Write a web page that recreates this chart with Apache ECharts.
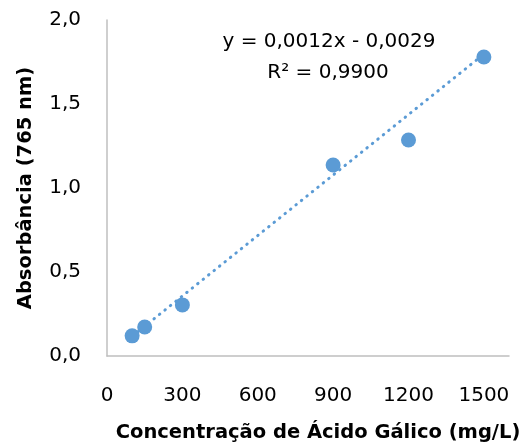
<!DOCTYPE html>
<html>
<head>
<meta charset="utf-8">
<script src="https://cdn.jsdelivr.net/npm/echarts@6/dist/echarts.min.js"></script>
<style>
  html, body { margin: 0; padding: 0; background: #fff; }
  #chart { width: 527px; height: 448px; }
</style>
</head>
<body>
<div id="chart"></div>
<script>
// concentration (mg/L) and absorbance
const concentration = [100, 150, 300, 900, 1200, 1500]
const absorbance = [0.12, 0.173, 0.304, 1.137, 1.286, 1.78]

// trendline ends (y = 0,0012x - 0,0029)
const trendX = [100, 1500]
const trendY = [0.117, 1.797]

const xTicks = [0, 300, 600, 900, 1200, 1500]
const yTicks = ['0,0', '0,5', '1,0', '1,5', '2,0']

const equation = 'y = 0,0012x - 0,0029'
const rSquared = 'R² = 0,9900'

const blue = '#5B9BD5'
const font = 'DejaVu Sans'

const chart = echarts.init(document.getElementById('chart'))

const option = {
  animation: false,
  grid: { left: 107, top: 20, right: 18, bottom: 92, outerBoundsMode: 'none' },
  xAxis: {
    type: 'value',
    min: 0,
    max: 1600,
    interval: 300,
    name: 'Concentração de Ácido Gálico (mg/L)',
    nameLocation: 'middle',
    nameGap: 67,
    nameTextStyle: { fontFamily: font, fontWeight: 'bold', fontSize: 19.5, color: '#000', padding: [0, 0, 0, 20] },
    axisLine: { lineStyle: { color: '#BFBFBF', width: 1.5 } },
    axisTick: { show: false },
    splitLine: { show: false },
    axisLabel: {
      fontFamily: font, fontSize: 20, color: '#000', margin: 30,
      formatter: v => xTicks.includes(v) ? String(v) : ''
    }
  },
  yAxis: {
    type: 'value',
    min: 0,
    max: 2,
    interval: 0.5,
    name: 'Absorbância (765 nm)',
    nameLocation: 'middle',
    nameGap: 71,
    nameTextStyle: { fontFamily: font, fontWeight: 'bold', fontSize: 19.5, color: '#000' },
    axisLine: { show: true, lineStyle: { color: '#BFBFBF', width: 1.5 } },
    axisTick: { show: false },
    splitLine: { show: false },
    axisLabel: {
      fontFamily: font, fontSize: 20, color: '#000', margin: 26,
      formatter: v => yTicks[Math.round(v / 0.5)]
    }
  },
  // equation and R² above the trendline
  graphic: [
    {
      type: 'text', x: 329, y: 42,
      style: { text: equation, fontFamily: font, fontSize: 20, fill: '#000', align: 'center', verticalAlign: 'middle' }
    },
    {
      type: 'text', x: 328, y: 73,
      style: { text: rSquared, fontFamily: font, fontSize: 20, fill: '#000', align: 'center', verticalAlign: 'middle' }
    }
  ],
  series: [
    {
      type: 'line',
      data: trendX.map((x, i) => [x, trendY[i]]),
      showSymbol: false,
      lineStyle: { color: blue, width: 3, type: [0.5, 6.5], cap: 'round' },
      z: 1
    },
    {
      type: 'scatter',
      data: concentration.map((x, i) => [x, absorbance[i]]),
      symbolSize: 15,
      itemStyle: { color: blue, opacity: 1 },
      z: 2
    }
  ]
}

chart.setOption(option)
</script>
</body>
</html>
